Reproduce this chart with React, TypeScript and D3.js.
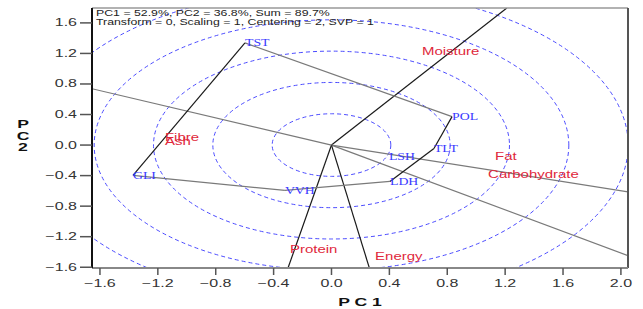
import React from 'react';
import * as d3 from 'd3';

// genotypes (blue) - PC1 / PC2 scores
const genoNames = ['TST', 'POL', 'TLT', 'LSH', 'LDH', 'VVH', 'GLI'];
const genoPC1 = [-0.598, 0.833, 0.708, 0.397, 0.404, -0.322, -1.372];
const genoPC2 = [1.338, 0.372, -0.046, -0.150, -0.476, -0.594, -0.398];
// polygon (which-won-where) vertices in order
const hullOrder = ['TST', 'POL', 'TLT', 'LDH', 'VVH', 'GLI'];

// traits (red)
const traitNames = ['Moisture', 'Fibre', 'Ash', 'Fat', 'Carbohydrate', 'Protein', 'Energy'];
const traitPC1 = [0.625, -1.151, -1.151, 1.130, 1.082, -0.287, 0.301];
const traitPC2 = [1.221, 0.098, 0.046, -0.150, -0.385, -1.364, -1.456];

const circleRadii = [0.41, 0.82, 1.23, 1.64, 2.05];
const xTicks = [-1.6, -1.2, -0.8, -0.4, 0.0, 0.4, 0.8, 1.2, 1.6, 2.0];
const yTicks = [-1.6, -1.2, -0.8, -0.4, 0.0, 0.4, 0.8, 1.2, 1.6];
const header = [
  'PC1 = 52.9%, PC2 = 36.8%, Sum = 89.7%',
  'Transform = 0, Scaling = 1, Centering = 2, SVP = 1',
];

const W = 643, H = 309;
const L = 92, R = 628, T = 8, B = 268;
const xDom: [number, number] = [-1.655, 2.049];
const yDom: [number, number] = [-1.61, 1.795];

const sans = '"Liberation Sans", Arial, sans-serif';
const serif = '"Liberation Serif", "Times New Roman", serif';

export default function App() {
  const x = d3.scaleLinear().domain(xDom).range([L, R]);
  const y = d3.scaleLinear().domain(yDom).range([B, T]);
  const fmt = d3.format('.1f');
  const kx = x(1) - x(0);
  const ky = y(0) - y(1);

  const pt = (name: string) => {
    const i = genoNames.indexOf(name);
    return [genoPC1[i], genoPC2[i]];
  };

  // polygon sides and perpendicular rays from origin
  const sides = hullOrder.map((n, i) => [pt(n), pt(hullOrder[(i + 1) % hullOrder.length])]);
  // steep lines come out dark in the original, flat ones grey
  const lineColor = (dx: number, dy: number) =>
    Math.abs(dy * ky) > 0.6 * Math.abs(dx * kx) ? '#1a1a1a' : '#7a7a7a';
  const rays = sides.map(([a, b]) => {
    const dx = b[0] - a[0], dy = b[1] - a[1];
    let nx = dy, ny = -dx;
    if (nx * a[0] + ny * a[1] < 0) { nx = -nx; ny = -ny; }
    const tx = nx > 0 ? xDom[1] / nx : xDom[0] / nx;
    const ty = ny > 0 ? yDom[1] / ny : yDom[0] / ny;
    const t = Math.min(tx, ty);
    return { x2: nx * t, y2: ny * t, color: lineColor(nx, ny) };
  });

  return (
    <svg width={W} height={H} style={{ position: 'absolute', left: 0, top: 0, background: '#fff' }}>
      <defs>
        <clipPath id="plotClip">
          <rect x={L} y={T} width={R - L} height={B - T} />
        </clipPath>
      </defs>

      <g clipPath="url(#plotClip)">
        {/* concentric circles */}
        {circleRadii.map((r) => (
          <ellipse key={r} cx={x(0)} cy={y(0)} rx={x(r) - x(0)} ry={y(0) - y(r)}
            fill="none" stroke="#4b4bff" strokeWidth={1} strokeDasharray="4,3" />
        ))}
        {/* rays */}
        {rays.map((r, i) => (
          <line key={'ray' + i} x1={x(0)} y1={y(0)} x2={x(r.x2)} y2={y(r.y2)}
            stroke={r.color} strokeWidth={1.2} />
        ))}
        {/* polygon */}
        {sides.map(([a, b], i) => (
          <line key={'side' + i} x1={x(a[0])} y1={y(a[1])} x2={x(b[0])} y2={y(b[1])}
            stroke={lineColor(b[0] - a[0], b[1] - a[1])} strokeWidth={1.2} />
        ))}
        {/* trait labels */}
        {traitNames.map((n, i) => (
          <text key={n} transform={`translate(${x(traitPC1[i])},${y(traitPC2[i]) + 3.5}) scale(1.5,1)`}
            fontFamily={sans} fontSize={10} fill="#e0283c">{n}</text>
        ))}
        {/* genotype labels */}
        {genoNames.map((n, i) => (
          <text key={n} transform={`translate(${x(genoPC1[i])},${y(genoPC2[i]) + 3.5}) scale(1.38,1)`}
            fontFamily={serif} fontSize={10} fill="#3a3aff">{n}</text>
        ))}
      </g>

      {/* header */}
      {header.map((h, i) => (
        <text key={i} transform={`translate(96,${16 + i * 9}) scale(1.45,1)`}
          fontFamily={sans} fontSize={8.5} fill="#222">{h}</text>
      ))}

      {/* frame */}
      <line x1={L} y1={T} x2={R} y2={T} stroke="#999" strokeWidth={1.5} />
      <line x1={R} y1={T} x2={R} y2={B} stroke="#555" strokeWidth={2} />
      <line x1={L} y1={B} x2={R} y2={B} stroke="#888" strokeWidth={2} />
      <line x1={L} y1={T} x2={L} y2={B} stroke="#111" strokeWidth={2} />

      {/* x axis */}
      {xTicks.map((t) => (
        <g key={'x' + t}>
          <line x1={x(t)} x2={x(t)} y1={B} y2={B + 7} stroke="#555" strokeWidth={1.5} />
          <text transform={`translate(${x(t)},287) scale(1.6,1)`} textAnchor="middle"
            fontFamily={sans} fontSize={10} fill="#333">{fmt(t)}</text>
        </g>
      ))}
      {/* y axis */}
      {yTicks.map((t) => (
        <g key={'y' + t}>
          <line x1={L - 12} x2={L} y1={y(t)} y2={y(t)} stroke="#555" strokeWidth={1.5} />
          <text transform={`translate(77,${y(t) + 3.5}) scale(1.6,1)`} textAnchor="end"
            fontFamily={sans} fontSize={10} fill="#333">{fmt(t)}</text>
        </g>
      ))}

      {/* axis titles */}
      <text transform="translate(360,306) scale(1.6,1)" textAnchor="middle"
        fontFamily={sans} fontSize={11} fontWeight="bold" fill="#111">P C 1</text>
      {['P', 'C', '2'].map((c, i) => (
        <text key={c} transform={`translate(23,${128 + i * 11.5}) scale(1.6,1)`} textAnchor="middle"
          fontFamily={sans} fontSize={11} fontWeight="bold" fill="#111">{c}</text>
      ))}
    </svg>
  );
}
